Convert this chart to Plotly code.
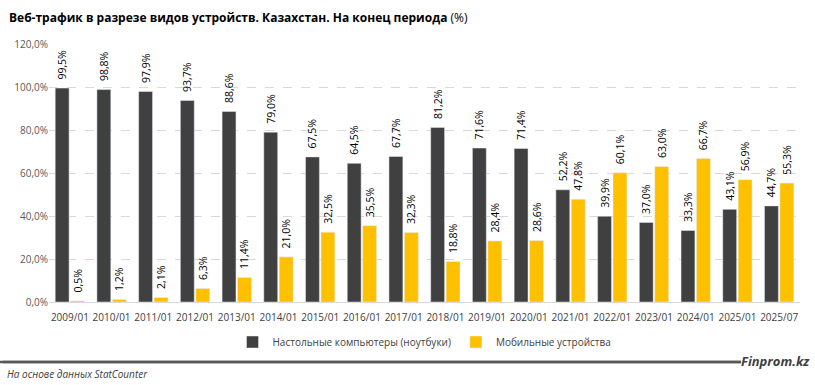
import plotly.graph_objects as go

categories = ["2009/01", "2010/01", "2011/01", "2012/01", "2013/01", "2014/01", "2015/01",
              "2016/01", "2017/01", "2018/01", "2019/01", "2020/01", "2021/01", "2022/01",
              "2023/01", "2024/01", "2025/01", "2025/07"]
desktop = [99.5, 98.8, 97.9, 93.7, 88.6, 79.0, 67.5, 64.5, 67.7, 81.2, 71.6, 71.4, 52.2, 39.9,
           37.0, 33.3, 43.1, 44.7]
mobile = [0.5, 1.2, 2.1, 6.3, 11.4, 21.0, 32.5, 35.5, 32.3, 18.8, 28.4, 28.6, 47.8, 60.1,
          63.0, 66.7, 56.9, 55.3]
y_ticks = [0, 20, 40, 60, 80, 100, 120]
y_tick_labels = ["0,0%", "20,0%", "40,0%", "60,0%", "80,0%", "100,0%", "120,0%"]

def fmt(v):
    return "\u00a0\u00a0" + f"{v:.1f}%".replace(".", ",")

W, H = 815, 385
L, R, T, B = 49, 15, 44, 83
pw, ph = W - L - R, H - T - B

def px(x):
    return (x - L) / pw

def py(y):
    return (H - B - y) / ph

font = "Open Sans, Liberation Sans, sans-serif"

fig = go.Figure()
fig.add_trace(go.Bar(x=categories, y=desktop, name="Настольные компьютеры (ноутбуки)",
                     marker_color="#404040", text=[fmt(v) for v in desktop],
                     textposition="outside", textangle=-90, cliponaxis=False,
                     constraintext="none",
                     textfont=dict(size=10.5, color="#000000", family=font)))
fig.add_trace(go.Bar(x=categories, y=mobile, name="Мобильные устройства",
                     marker_color="#FFC000", text=[fmt(v) for v in mobile],
                     textposition="outside", textangle=-90, cliponaxis=False,
                     constraintext="none",
                     textfont=dict(size=10.5, color="#000000", family=font)))

fig.update_layout(
    width=W, height=H,
    margin=dict(l=L, r=R, t=T, b=B),
    paper_bgcolor="white", plot_bgcolor="white",
    barmode="group", bargap=0.26, bargroupgap=0.1,
    uniformtext=dict(minsize=10, mode="show"),
    font=dict(family=font, size=10, color="#404040"),
    showlegend=True,
    legend=dict(orientation="h", x=0.5, xanchor="center", y=py(342), yanchor="middle",
                font=dict(size=10, color="#404040"), itemwidth=30, traceorder="normal",
                bgcolor="rgba(0,0,0,0)"),
    xaxis=dict(type="category", showline=True, linecolor="#d9d9d9", linewidth=1,
               ticks="", tickfont=dict(size=10, color="#404040"), showgrid=False,
               ticklabelstandoff=6),
    yaxis=dict(range=[0, 120], tickvals=y_ticks, ticktext=y_tick_labels,
               showgrid=True, gridcolor="#d9d9d9", griddash="dash", gridwidth=1,
               zeroline=False, ticks="", tickfont=dict(size=10, color="#595959")),
    shapes=[dict(type="line", xref="paper", yref="paper", x0=px(0), x1=px(741),
                 y0=py(362), y1=py(362), layer="above",
                 line=dict(color="#595959", width=2.5))],
)

fig.add_annotation(text="<b>Веб-трафик в разрезе видов устройств. Казахстан. На конец периода</b> (%)",
                   xref="paper", yref="paper", x=px(7), y=py(17), xanchor="left", yanchor="middle",
                   showarrow=False, font=dict(size=12, color="#000000", family=font))
# footer rule drawn as an arrowless annotation line
fig.add_annotation(text=" ", xref="paper", yref="paper", x=px(741), y=py(362),
                   showarrow=True, arrowhead=0, ax=-741, ay=0, standoff=0, startstandoff=0,
                   arrowwidth=2.5, arrowcolor="#595959")
fig.add_annotation(text="<b><i>Finprom.kz</i></b>", xref="paper", yref="paper", x=px(812), y=py(361),
                   xanchor="right", yanchor="middle", showarrow=False,
                   font=dict(size=13, color="#404040", family=font))
fig.add_annotation(text="<i>На основе данных StatCounter</i>", xref="paper", yref="paper",
                   x=px(5), y=py(374), xanchor="left", yanchor="middle", showarrow=False,
                   font=dict(size=10, color="#404040", family=font))

fig.write_html("out.html", config={"displayModeBar": False},
               post_script="document.body.style.margin='0';document.body.style.overflow='hidden';")
